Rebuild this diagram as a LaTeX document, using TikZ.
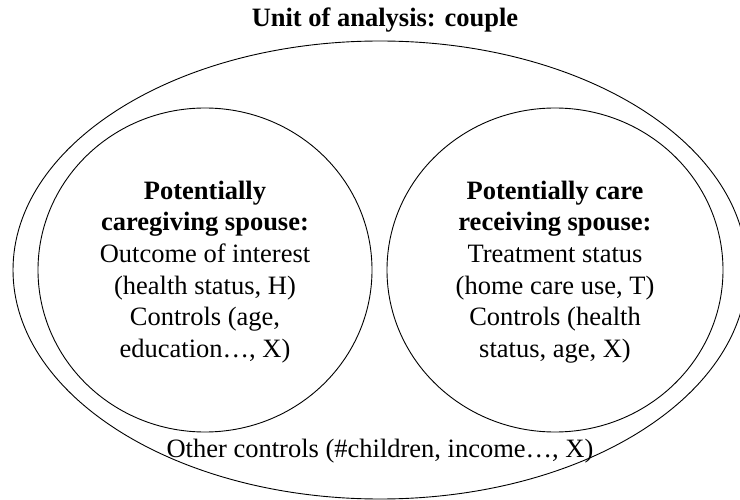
\documentclass[tikz,border=0pt]{standalone}
\usepackage{fontspec}
\setmainfont{Liberation Serif}
\usetikzlibrary{shapes.geometric}
\begin{document}
\begin{tikzpicture}[x=1pt,y=-1pt,
  ring/.style={draw=black, line width=0.9pt, ellipse, inner sep=0pt},
  txt/.style={align=center, inner sep=0pt, font=\fontsize{26.5}{31.7}\selectfont},
  ttl/.style={inner sep=0pt, font=\fontsize{26.5}{31.7}\selectfont\bfseries}]
\useasboundingbox (0,0) rectangle (740,500);
\node[ring, minimum width=734pt, minimum height=458pt] (unit) at (380,270) {};
\node[ring, minimum width=334pt, minimum height=324pt] (care) at (205,270) {};
\node[ring, minimum width=336pt, minimum height=324pt] (recv) at (555,270) {};
\node[ttl, anchor=base] (title) at (385,26.5) {Unit of analysis: couple};
\node[txt] (caretext) at (205,272) {\textbf{Potentially}\\ \textbf{caregiving spouse:}\\ Outcome of interest\\ (health status, H)\\ Controls (age,\\ education…, X)};
\node[txt] (recvtext) at (555,272) {\textbf{Potentially care}\\ \textbf{receiving spouse:}\\ Treatment status\\ (home care use, T)\\ Controls (health\\ status, age, X)};
\node[txt, anchor=base] (other) at (380,457) {Other controls (\#children, income…, X)};
\end{tikzpicture}
\end{document}
